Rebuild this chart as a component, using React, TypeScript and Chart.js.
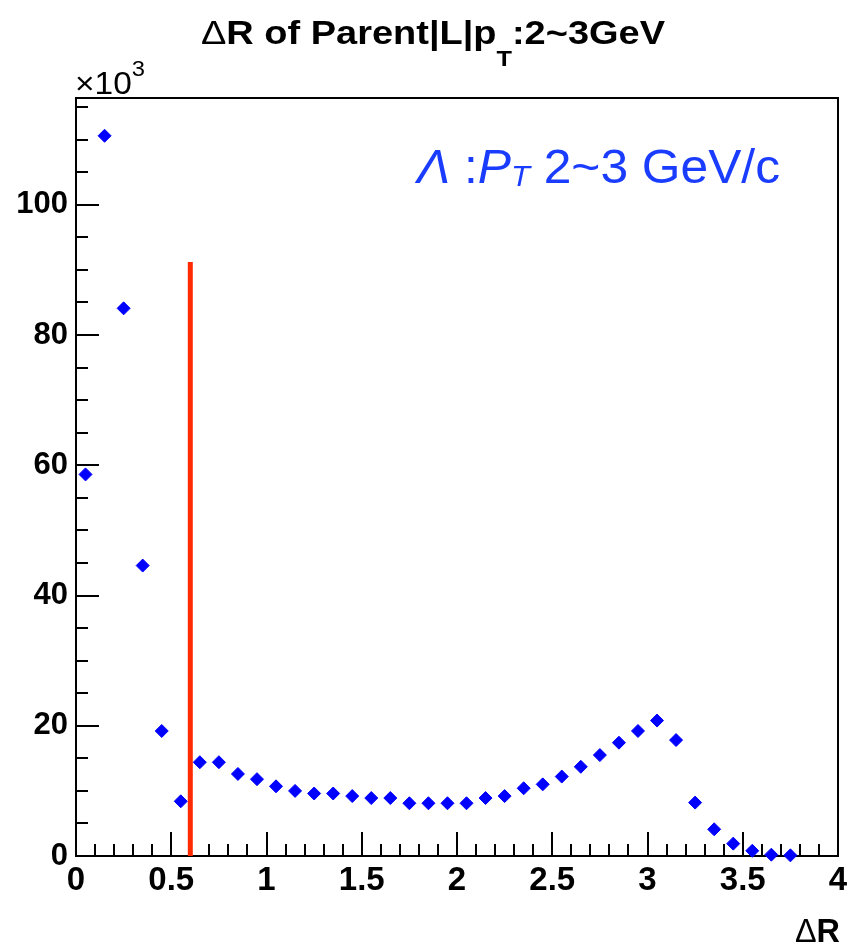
import React, { useEffect, useRef } from "react";
import { Chart, registerables } from "chart.js";

Chart.register(...registerables);

// bin centres of ΔR (bin width 0.1)
const binCenters = [
  0.05, 0.15, 0.25, 0.35, 0.45, 0.55, 0.65, 0.75, 0.85, 0.95,
  1.05, 1.15, 1.25, 1.35, 1.45, 1.55, 1.65, 1.75, 1.85, 1.95,
  2.05, 2.15, 2.25, 2.35, 2.45, 2.55, 2.65, 2.75, 2.85, 2.95,
  3.05, 3.15, 3.25, 3.35, 3.45, 3.55, 3.65, 3.75,
];
// counts in units of 10^3
const counts = [
  58.6, 110.6, 84.1, 44.6, 19.2, 8.4, 14.4, 14.4, 12.6, 11.8,
  10.7, 10.0, 9.6, 9.6, 9.2, 8.9, 8.9, 8.1, 8.1, 8.1,
  8.1, 8.9, 9.2, 10.4, 11.0, 12.2, 13.7, 15.5, 17.4, 19.2,
  20.8, 17.8, 8.2, 4.1, 1.9, 0.8, 0.2, 0.1,
];
const cutX = [0.6, 0.6];
const cutY = [0, 91.2];
const xTickLabels = ["0", "0.5", "1", "1.5", "2", "2.5", "3", "3.5", "4"];
const yTickLabels = ["0", "20", "40", "60", "80", "100"];

const X_MIN = 0;
const X_MAX = 4;
const Y_MIN = 0;
const Y_MAX = 116.4;

const FONT = "'Liberation Sans', Arial, Helvetica, sans-serif";

type Seg = { text: string; font: string; dy?: number };

function drawRich(
  ctx: CanvasRenderingContext2D,
  segs: Seg[],
  x: number,
  baseline: number,
  targetWidth: number,
  color: string,
  align: "left" | "right" = "left"
) {
  ctx.save();
  ctx.textBaseline = "alphabetic";
  ctx.textAlign = "left";
  let total = 0;
  const widths: number[] = [];
  for (const s of segs) {
    ctx.font = s.font;
    const w = ctx.measureText(s.text).width;
    widths.push(w);
    total += w;
  }
  const sx = targetWidth / total;
  const startX = align === "left" ? x : x - targetWidth;
  ctx.translate(startX, baseline);
  ctx.scale(sx, 1);
  ctx.fillStyle = color;
  let cx = 0;
  segs.forEach((s, i) => {
    ctx.font = s.font;
    ctx.fillText(s.text, cx, s.dy || 0);
    cx += widths[i];
  });
  ctx.restore();
}

const decorPlugin = {
  id: "rootDecor",
  beforeDatasetsDraw(chart: any) {
    const ctx: CanvasRenderingContext2D = chart.ctx;
    const { left, right, top, bottom } = chart.chartArea;
    const xs = chart.scales.x;
    const ys = chart.scales.y;
    ctx.save();
    ctx.strokeStyle = "#000";
    ctx.lineWidth = 2;
    // x ticks (inward)
    for (let i = 0; i <= 40; i++) {
      const v = i / 10;
      const px = Math.round(xs.getPixelForValue(v));
      const len = i % 5 === 0 ? 24 : 12;
      ctx.beginPath();
      ctx.moveTo(px, bottom);
      ctx.lineTo(px, bottom - len);
      ctx.stroke();
    }
    // y ticks (inward)
    for (let v = 0; v <= Y_MAX; v += 5) {
      const py = Math.round(ys.getPixelForValue(v));
      const len = v % 20 === 0 ? 23 : 12;
      ctx.beginPath();
      ctx.moveTo(left, py);
      ctx.lineTo(left + len, py);
      ctx.stroke();
    }
    // frame
    ctx.strokeRect(left, top, right - left, bottom - top);
    ctx.restore();
  },
  afterDraw(chart: any) {
    const ctx: CanvasRenderingContext2D = chart.ctx;
    // title
    drawRich(
      ctx,
      [
        { text: "Δ", font: `33px ${FONT}` },
        { text: "R of Parent|L|p", font: `bold 33px ${FONT}` },
        { text: "T", font: `bold 22px ${FONT}`, dy: 22 },
        { text: ":2~3GeV", font: `bold 33px ${FONT}` },
      ],
      201,
      44,
      464,
      "#000"
    );
    // exponent
    drawRich(
      ctx,
      [
        { text: "×10", font: `31px ${FONT}` },
        { text: "3", font: `22px ${FONT}`, dy: -18 },
      ],
      75,
      94,
      70,
      "#000"
    );
    // x axis title
    drawRich(
      ctx,
      [
        { text: "Δ", font: `34px ${FONT}` },
        { text: "R", font: `bold 34px ${FONT}` },
      ],
      840,
      942,
      45,
      "#000",
      "right"
    );
    // legend text
    drawRich(
      ctx,
      [
        { text: "Λ", font: `italic 48px ${FONT}` },
        { text: " :", font: `48px ${FONT}` },
        { text: "P", font: `italic 48px ${FONT}` },
        { text: "T", font: `italic 30px ${FONT}`, dy: 3 },
        { text: " 2~3 GeV/c", font: `48px ${FONT}` },
      ],
      417,
      183,
      363,
      "#1a3cff"
    );
  },
};

export default function App() {
  const canvasRef = useRef<HTMLCanvasElement | null>(null);

  useEffect(() => {
    if (!canvasRef.current) return;
    const chart = new Chart(canvasRef.current, {
      type: "scatter",
      data: {
        datasets: [
          {
            type: "line" as any,
            label: "cut",
            data: cutX.map((x, i) => ({ x, y: cutY[i] })),
            borderColor: "#ff2a00",
            borderWidth: 5,
            pointRadius: 0,
            fill: false,
            order: 2,
          } as any,
          {
            label: "ΔR",
            data: binCenters.map((x, i) => ({ x, y: counts[i] })),
            pointStyle: "rectRot",
            pointRadius: 6.5,
            pointBackgroundColor: "#0000ff",
            pointBorderColor: "#0000ff",
            pointBorderWidth: 1,
            showLine: false,
            clip: false as any,
            order: 1,
          },
        ],
      },
      options: {
        responsive: false,
        animation: false,
        layout: { padding: { top: 98, right: 10, left: 0, bottom: 0 } },
        plugins: {
          legend: { display: false },
          tooltip: { enabled: false },
          title: { display: false },
        },
        scales: {
          x: {
            type: "linear",
            min: X_MIN,
            max: X_MAX,
            grid: { display: false, drawTicks: false },
            border: { display: false },
            afterFit: (scale: any) => {
              scale.height = 945 - 856;
              scale.paddingLeft = 0;
              scale.paddingRight = 0;
            },
            afterBuildTicks: (scale: any) => {
              scale.ticks = xTickLabels.map((l) => ({ value: parseFloat(l) }));
            },
            ticks: {
              autoSkip: false,
              maxRotation: 0,
              padding: 5,
              color: "#000",
              font: { family: FONT, size: 33, weight: "bold" },
              callback: (v: any) => {
                const i = xTickLabels.findIndex((l) => Math.abs(parseFloat(l) - v) < 1e-6);
                return i >= 0 ? xTickLabels[i] : "";
              },
            },
          },
          y: {
            type: "linear",
            min: Y_MIN,
            max: Y_MAX,
            grid: { display: false, drawTicks: false },
            border: { display: false },
            afterFit: (scale: any) => {
              scale.width = 76;
              scale.paddingTop = 0;
              scale.paddingBottom = 0;
            },
            afterBuildTicks: (scale: any) => {
              scale.ticks = yTickLabels.map((l) => ({ value: parseFloat(l) }));
            },
            ticks: {
              autoSkip: false,
              padding: 8,
              color: "#000",
              font: { family: FONT, size: 31, weight: "bold" },
              callback: (v: any) => {
                const i = yTickLabels.findIndex((l) => Math.abs(parseFloat(l) - v) < 1e-6);
                return i >= 0 ? yTickLabels[i] : "";
              },
            },
          },
        },
      },
      plugins: [decorPlugin],
    });
    return () => chart.destroy();
  }, []);

  return (
    <div style={{ position: "absolute", left: 0, top: 0, width: 848, height: 945, background: "#fff" }}>
      <canvas ref={canvasRef} width={848} height={945} style={{ display: "block" }} />
    </div>
  );
}
